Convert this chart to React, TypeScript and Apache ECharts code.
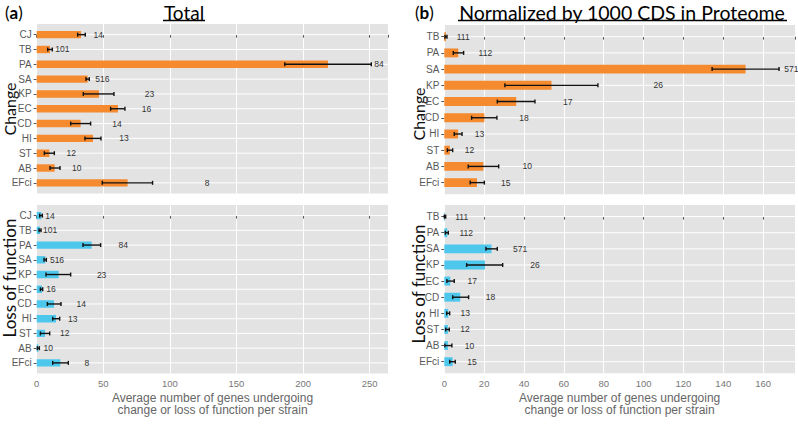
import React, { useEffect, useRef } from "react";
import * as echarts from "echarts";

// ---------- Data ----------
const totalCats = ["CJ", "TB", "PA", "SA", "KP", "EC", "CD", "HI", "ST", "AB", "EFci"];
const normCats = ["TB", "PA", "SA", "KP", "EC", "CD", "HI", "ST", "AB", "EFci"];

// Panel (a) Total – Change
const totChangeMean = [33.3, 10, 218.75, 38.25, 46.75, 61, 33, 42.25, 9.5, 13.5, 68.25];
const totChangeLow = [30.75, 8.25, 186.25, 37, 35, 55.5, 25.5, 36.25, 5.75, 10, 49.25];
const totChangeHigh = [36.5, 11.75, 251.25, 39.5, 58, 66.25, 40.5, 48.25, 13.25, 17.5, 87];
const totChangeN = [14, 101, 84, 516, 23, 16, 14, 13, 12, 10, 8];
const totChangeLabelAt = [46.25, 19.25, 257, 49.25, 84.75, 82.5, 60.25, 65.5, 26, 30, 128];

// Panel (a) Total – Loss of function
const totLofMean = [3.5, 2.5, 41.25, 6.5, 16.5, 4, 13, 14.5, 6.25, 1.25, 17.75];
const totLofLow = [2.25, 1.75, 34.75, 5.5, 7, 2.75, 8, 12, 2.75, 0.5, 12];
const totLofHigh = [4.25, 3.25, 48, 7.25, 25.5, 4.5, 18.25, 17.25, 9.75, 2, 23.75];
const totLofN = [14, 101, 84, 516, 23, 16, 14, 13, 12, 10, 8];
const totLofLabelAt = [10, 10, 65, 15.25, 48.75, 10.75, 33.5, 27, 21, 8.75, 37.75];

// Panel (b) Normalized – Change
const normChangeMean = [0.8, 7, 151.2, 53.8, 36.1, 20.1, 6.9, 2.8, 19.6, 16.4];
const normChangeLow = [0.35, 4.5, 134.4, 30.4, 26.6, 13.7, 5, 1.5, 12, 13];
const normChangeHigh = [1.35, 9.7, 168, 77.1, 45.5, 26.4, 8.9, 4.2, 27.3, 20.1];
const normChangeN = [111, 112, 571, 26, 17, 18, 13, 12, 10, 15];
const normChangeLabelAt = [9.5, 20.6, 174.2, 107.4, 62, 40, 17.7, 12.7, 41.6, 30.8];

// Panel (b) Normalized – Loss of function
const normLofMean = [0.3, 1.5, 23.7, 20.4, 3, 8, 2, 1.8, 1.8, 4.2];
const normLofLow = [0, 0.5, 20.9, 11.2, 1.3, 4.2, 1.2, 0.7, 0.3, 2.7];
const normLofHigh = [0.7, 2, 26.6, 29.3, 5, 12.2, 2.7, 2.5, 3.8, 5.5];
const normLofN = [111, 112, 571, 26, 17, 18, 13, 12, 10, 15];
const normLofLabelAt = [8.7, 11, 38, 45.5, 14, 23.2, 10.5, 10.4, 12.7, 13.9];

const xTitle = "Average number of genes undergoing\nchange or loss of function per strain";

const ORANGE = "#F68A2E";
const BLUE = "#4DC7EB";
const PANEL = "#E3E3E4";
const SANS = '"Liberation Sans", Arial, sans-serif';
const TITLE_FONT = 'Lato, "Open Sans", sans-serif';

function buildRows(mean: number[], low: number[], high: number[], labelAt: number[], n: number[]) {
  return mean.map((m, i) => [i, m, low[i], high[i], labelAt[i], n[i]]);
}

function makeSeries(idx: number, rows: number[][], color: string, barW: number) {
  return {
    type: "custom",
    xAxisIndex: idx,
    yAxisIndex: idx,
    clip: false,
    encode: { x: [1, 2, 3, 4], y: 0 },
    data: rows,
    renderItem: (params: any, api: any) => {
      const i = api.value(0);
      const m = api.value(1);
      const lo = api.value(2);
      const hi = api.value(3);
      const lx = api.value(4);
      const n = api.value(5);
      const cs = params.coordSys;
      const p0 = api.coord([0, i]);
      const pm = api.coord([m, i]);
      const plo = api.coord([lo, i]);
      const phi = api.coord([hi, i]);
      const pl = api.coord([lx, i]);
      const bh = Math.abs(api.size([0, barW])[1]);
      const cap = 2;
      const y = p0[1];
      return {
        type: "group",
        children: [
          {
            type: "line",
            shape: { x1: cs.x, y1: y, x2: cs.x + cs.width, y2: y },
            style: { stroke: "#FFFFFF", lineWidth: 1 },
          },
          {
            type: "rect",
            shape: { x: p0[0], y: y - bh / 2, width: pm[0] - p0[0], height: bh },
            style: { fill: color },
          },
          {
            type: "line",
            shape: { x1: plo[0], y1: y, x2: phi[0], y2: y },
            style: { stroke: "#111", lineWidth: 1.4 },
          },
          {
            type: "line",
            shape: { x1: plo[0], y1: y - cap, x2: plo[0], y2: y + cap },
            style: { stroke: "#111", lineWidth: 1.4 },
          },
          {
            type: "line",
            shape: { x1: phi[0], y1: y - cap, x2: phi[0], y2: y + cap },
            style: { stroke: "#111", lineWidth: 1.4 },
          },
          {
            type: "text",
            x: pl[0],
            y: y,
            style: {
              text: String(n),
              fill: "#333",
              fontSize: 8.5,
              fontFamily: SANS,
              align: "center",
              verticalAlign: "middle",
            },
          },
        ],
      };
    },
  };
}

function makeYAxis(idx: number, cats: string[]) {
  const vals = cats.map((_, i) => i);
  return {
    type: "value",
    gridIndex: idx,
    inverse: true,
    min: -0.72,
    max: cats.length - 1 + 0.72,
    axisLine: { show: false },
    splitLine: { show: false },
    axisTick: { show: true, length: 3, customValues: vals, lineStyle: { color: "#555", width: 1 } },
    axisLabel: {
      show: true,
      customValues: vals,
      margin: 5,
      color: "#595959",
      fontSize: 10,
      fontFamily: SANS,
      formatter: (v: number) => cats[Math.round(v)] ?? "",
    },
  };
}

function makeXAxis(idx: number, max: number, interval: number, bottom: boolean) {
  return {
    type: "value",
    gridIndex: idx,
    min: 0,
    max,
    interval,
    axisLine: { show: false },
    axisTick: { show: true, length: 3, lineStyle: { color: "#555", width: 1 } },
    splitLine: { show: true, lineStyle: { color: "#FFFFFF", width: 1 } },
    axisLabel: {
      show: bottom,
      margin: 5,
      color: "#777",
      fontSize: 9.5,
      fontFamily: SANS,
      showMaxLabel: false,
    },
    name: bottom ? xTitle : "",
    nameLocation: "middle",
    nameGap: 18,
    nameTextStyle: {
      color: "#666",
      fontSize: 12,
      fontFamily: SANS,
      lineHeight: 12.5,
      verticalAlign: "top",
    },
  };
}

export default function App() {
  const ref = useRef<HTMLDivElement>(null);
  useEffect(() => {
    if (!ref.current) return;
    const chart = echarts.init(ref.current, undefined, { renderer: "svg" });
    const option: any = {
      animation: false,
      backgroundColor: "#FFFFFF",
      grid: [
        { left: 36.7, top: 24, width: 351.6, height: 169.5, show: true, backgroundColor: PANEL, borderWidth: 0 },
        { left: 36.7, top: 205, width: 351.6, height: 168.5, show: true, backgroundColor: PANEL, borderWidth: 0 },
        { left: 444.3, top: 25, width: 350.7, height: 169.3, show: true, backgroundColor: PANEL, borderWidth: 0 },
        { left: 444.3, top: 205, width: 350.7, height: 168.3, show: true, backgroundColor: PANEL, borderWidth: 0 },
      ],
      xAxis: [
        makeXAxis(0, 264, 50, false),
        makeXAxis(1, 264, 50, true),
        makeXAxis(2, 176, 20, false),
        makeXAxis(3, 176, 20, true),
      ],
      yAxis: [
        makeYAxis(0, totalCats),
        makeYAxis(1, totalCats),
        makeYAxis(2, normCats),
        makeYAxis(3, normCats),
      ],
      series: [
        makeSeries(0, buildRows(totChangeMean, totChangeLow, totChangeHigh, totChangeLabelAt, totChangeN), ORANGE, 0.5),
        makeSeries(1, buildRows(totLofMean, totLofLow, totLofHigh, totLofLabelAt, totLofN), BLUE, 0.5),
        makeSeries(2, buildRows(normChangeMean, normChangeLow, normChangeHigh, normChangeLabelAt, normChangeN), ORANGE, 0.55),
        makeSeries(3, buildRows(normLofMean, normLofLow, normLofHigh, normLofLabelAt, normLofN), BLUE, 0.55),
      ],
      graphic: [
        {
          type: "text",
          x: 5,
          y: 12,
          style: {
            text: "({b|a})",
            fill: "#000",
            fontSize: 17,
            fontFamily: TITLE_FONT,
            verticalAlign: "middle",
            rich: { b: { fontWeight: "bold", fontSize: 17, fontFamily: TITLE_FONT, fill: "#000" } },
          },
        },
        {
          type: "text",
          x: 184,
          y: 12,
          style: { text: "Total", fill: "#000", fontSize: 19, fontFamily: TITLE_FONT, align: "center", verticalAlign: "middle" },
        },
        { type: "line", shape: { x1: 163, y1: 20.5, x2: 205, y2: 20.5 }, style: { stroke: "#000", lineWidth: 1.3 } },
        {
          type: "text",
          x: 415,
          y: 12,
          style: {
            text: "({b|b})",
            fill: "#000",
            fontSize: 17,
            fontFamily: TITLE_FONT,
            verticalAlign: "middle",
            rich: { b: { fontWeight: "bold", fontSize: 17, fontFamily: TITLE_FONT, fill: "#000" } },
          },
        },
        {
          type: "text",
          x: 622,
          y: 12,
          style: {
            text: "Normalized by 1000 CDS in Proteome",
            fill: "#000",
            fontSize: 19.5,
            fontFamily: TITLE_FONT,
            align: "center",
            verticalAlign: "middle",
          },
        },
        { type: "line", shape: { x1: 458, y1: 20.5, x2: 787, y2: 20.5 }, style: { stroke: "#000", lineWidth: 1.3 } },
        {
          type: "text",
          x: 9,
          y: 109,
          rotation: Math.PI / 2,
          style: { text: "Change", fill: "#111", fontSize: 16, fontFamily: TITLE_FONT, align: "center", verticalAlign: "middle" },
        },
        {
          type: "text",
          x: 9,
          y: 278,
          rotation: Math.PI / 2,
          style: { text: "Loss of function", fill: "#111", fontSize: 17, fontFamily: TITLE_FONT, align: "center", verticalAlign: "middle" },
        },
        {
          type: "text",
          x: 418,
          y: 114,
          rotation: Math.PI / 2,
          style: { text: "Change", fill: "#111", fontSize: 16, fontFamily: TITLE_FONT, align: "center", verticalAlign: "middle" },
        },
        {
          type: "text",
          x: 418,
          y: 284,
          rotation: Math.PI / 2,
          style: { text: "Loss of function", fill: "#111", fontSize: 17, fontFamily: TITLE_FONT, align: "center", verticalAlign: "middle" },
        },
      ],
    };
    chart.setOption(option);
    return () => chart.dispose();
  }, []);
  return (
    <div
      ref={ref}
      style={{ position: "fixed", left: 0, top: 0, width: 798, height: 426, background: "#fff" }}
    />
  );
}
